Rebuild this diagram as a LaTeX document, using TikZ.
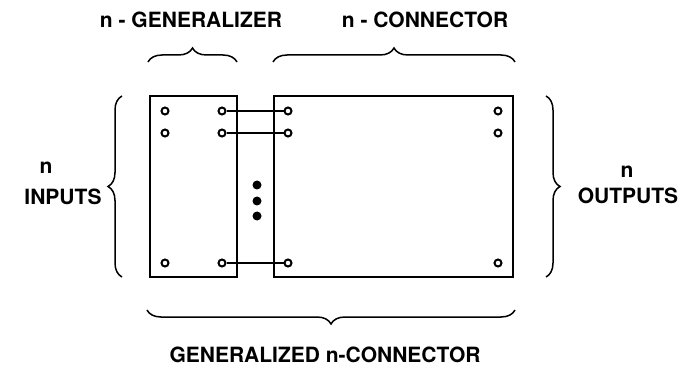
\documentclass[tikz,border=0pt]{standalone}
\usepackage{fontspec}
\setmainfont{TeX Gyre Heros}
\usetikzlibrary{decorations.pathreplacing}
\tikzset{
  module/.style={draw, line width=2.3pt, inner sep=0pt},
  pin/.style={circle, draw, line width=2pt, minimum size=7pt, inner sep=0pt},
  wire/.style={line width=1.4pt},
  bigdot/.style={circle, fill, minimum size=9pt, inner sep=0pt},
  curly/.style={decorate, decoration={brace, amplitude=14pt}, line width=1.5pt},
  lbl/.style={font=\bfseries\fontsize{21}{23}\selectfont, inner sep=0pt, align=center}
}

\begin{document}
\begin{tikzpicture}[x=1pt, y=1pt]
  \useasboundingbox (0,0) rectangle (685,-374);
  \node[module, minimum width=87pt, minimum height=181pt] (gen) at (193.5,-186.5) {};  % Generalizer
  \node[module, minimum width=239pt, minimum height=181pt] (con) at (393.5,-186.5) {}; % Connector
  \foreach \r/\y in {1/111, 2/133, 3/263} {
    \node[pin] (gL\r) at (165,-\y) {}; \node[pin] (gR\r) at (222,-\y) {};
    \node[pin] (cL\r) at (288,-\y) {}; \node[pin] (cR\r) at (498,-\y) {};
    \draw[wire] (gR\r) -- (cL\r);
  }
  \foreach \i/\y in {1/185, 2/201, 3/216} \node[bigdot] (dot\i) at (257,-\y) {};
  % Braces
  \draw[curly] (148,-62) -- (237,-62);
  \draw[curly] (273,-62) -- (515,-62);
  \draw[curly] (122,-277) -- (122,-96);
  \draw[curly] (546,-96) -- (546,-277);
  \draw[curly] (515,-310) -- (147,-310);
  \node[lbl] (genlbl) at (191,-20) {n - GENERALIZER};
  \node[lbl] (conlbl) at (425,-20) {n - CONNECTOR};
  \node[lbl] (inn) at (46,-168) {n}; \node[lbl] (inlbl) at (63,-197) {INPUTS};
  \node[lbl] (outn) at (627,-172) {n}; \node[lbl] (outlbl) at (628,-196) {OUTPUTS};
  \node[lbl] (total) at (325,-355) {GENERALIZED n-CONNECTOR};
\end{tikzpicture}
\end{document}
